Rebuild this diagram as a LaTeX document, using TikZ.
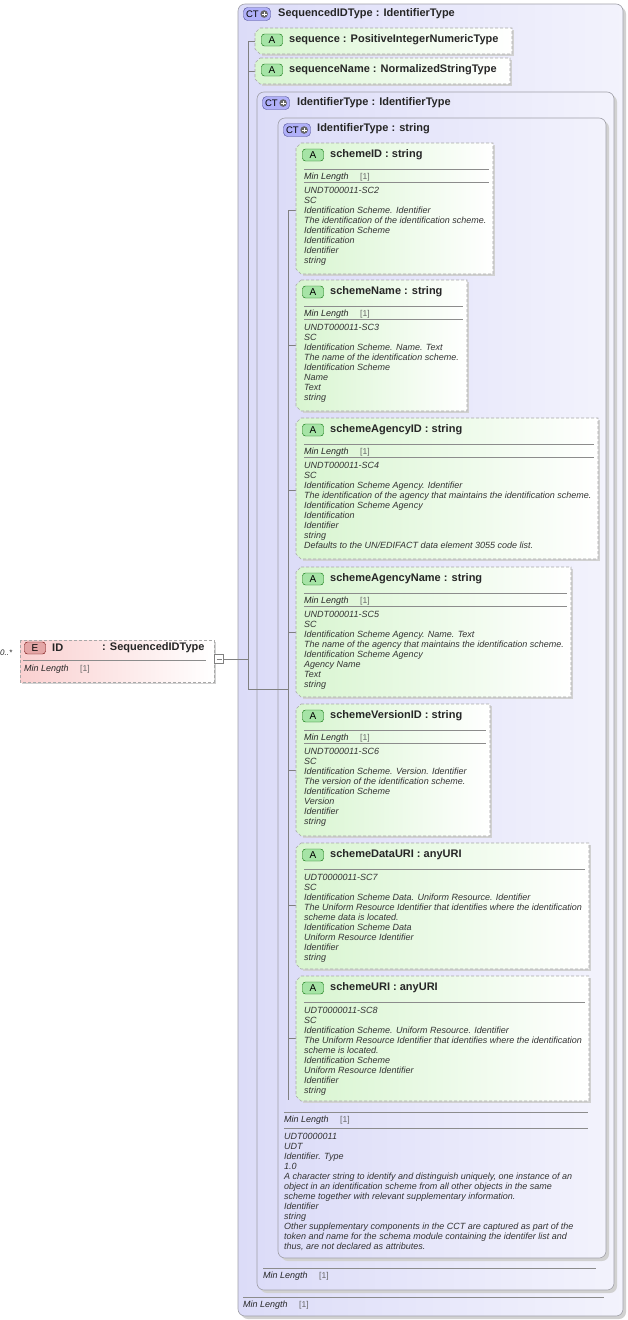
\documentclass[tikz,border=0pt]{standalone}
\usepackage{fontspec}
\setmainfont{Liberation Sans}
\usetikzlibrary{calc}
\definecolor{ctfill}{HTML}{DCDCF8}
\definecolor{ctedge}{HTML}{A0A0A8}
\definecolor{agreen}{HTML}{D8F5D0}
\definecolor{aedge}{HTML}{A8A8A8}
\definecolor{efill}{HTML}{FAD0D0}
\tikzset{
 x=1pt,y=-1pt,
 ctbox/.style={draw=ctedge,rounded corners=7pt,left color=ctfill,right color=ctfill!35!white,line width=0.6pt},
 abox/.style={draw=aedge,dashed,dash pattern=on 3pt off 2pt,left color=agreen,right color=white,line width=0.6pt},
 ebox/.style={draw=aedge,dashed,dash pattern=on 3pt off 2pt,left color=efill,right color=white,line width=0.6pt},
 shad/.style={fill=black!18},
 hdr/.style={font=\bfseries\fontsize{11}{12}\selectfont,anchor=west,inner sep=0pt,text=black!85},
 badge/.style={draw=#1!60!black,fill=#1!35!white,rounded corners=3pt,minimum width=21pt,minimum height=12pt,inner sep=0pt,font=\fontsize{10}{10}\selectfont},
 ctbadge/.style={draw=blue!40!black!70,fill=ctfill!80!blue,rounded corners=4pt,minimum width=27pt,minimum height=13pt,inner sep=0pt,font=\fontsize{9.5}{10}\selectfont},
 body/.style={font=\itshape\fontsize{9}{10}\selectfont,anchor=north west,inner sep=0pt,align=left,text=black!80},
 ml/.style={font=\itshape\fontsize{9}{10}\selectfont,anchor=west,inner sep=0pt,text=black!85},
 one/.style={font=\fontsize{8.5}{10}\selectfont,anchor=west,inner sep=0pt,text=black!60},
 sep/.style={draw=black!45,line width=0.5pt},
 conn/.style={draw=black!50,line width=0.6pt},
}
\newcommand\ctbadgeat[2]{\node[ctbadge] (#1) at #2 {CT\,\tikz[baseline=-3pt]{\fill[black!60](0,0)circle(3.8pt);\draw[white,line width=1pt](-2.4pt,0)--(2.4pt,0)(0,-2.4pt)--(0,2.4pt);}};}
% name x1 y1 x2 y2 title
\newcommand\attrbox[6]{%
 \fill[shad] ({#2+7},{#3+2})--({#4+2},{#3+2})--({#4+2},{#5+2})--({#2+7},{#5+2})--cycle;
 \path[abox] ({#2+5},#3)--(#4,#3)--(#4,#5)--({#2+5},#5)--(#2,{#5-5})--(#2,{#3+5})--cycle;
 \node[badge=green!70!black] (#1b) at ({#2+17},{#3+12}) {A};
 \node[hdr] (#1) at ({#2+34},{#3+12}) {#6};
}
\newcommand\minlen[3]{% x1 x2 ysep
 \draw[sep] (#1,#3)--(#2,#3);
 \node[ml] at (#1,{#3+8}) {Min Length};
 \node[one] at ({#1+56},{#3+8}) {[1]};
}
\begin{document}
\begin{tikzpicture}
\useasboundingbox (0,0) rectangle (628,1320);
% outer CT
\fill[shad,rounded corners=7pt] (241,7) rectangle (626,1319);
\path[ctbox] (238,4) rectangle (623,1316);
\ctbadgeat{ct1}{(257,14)}
\node[hdr] (t1) at (278,14) {SequencedIDType : IdentifierType};
% IdentifierType box
\fill[shad,rounded corners=7pt] (260,95) rectangle (617,1293);
\path[ctbox] (257,92) rectangle (614,1290);
\ctbadgeat{ct2}{(276,103)}
\node[hdr] (t2) at (297,103) {IdentifierType : IdentifierType};
% inner
\fill[shad,rounded corners=7pt] (281,121) rectangle (609,1261);
\path[ctbox] (278,118) rectangle (606,1258);
\ctbadgeat{ct3}{(297,130)}
\node[hdr] (t3) at (317,129) {IdentifierType : string};
% connectors
\coordinate (j0) at (224,659);
\coordinate (j1) at (248,659);
\coordinate (j2) at (248,689);
\coordinate (j3) at (288,689);
\coordinate (a1) at (248,41);
\coordinate (a2) at (248,71);
\coordinate (s1) at (288,210);
\coordinate (s2) at (288,1100);
\draw[conn] (j0)--(j1)--(a1)--(255,41);
\draw[conn] (a2)--(255,71);
\draw[conn] (j1)--(j2)--(j3);
\draw[conn] (s1)--(s2);
\foreach \y in {210,345,490,632,770,905,1038}{\draw[conn] (288,\y)--(296,\y);}
% sequence attributes
\attrbox{seq}{255}{28}{512}{54}{sequence : PositiveIntegerNumericType}
\attrbox{seqn}{255}{58}{510}{84}{sequenceName : NormalizedStringType}
% scheme attrs
\attrbox{sid}{296}{143}{493}{274}{schemeID : string}
\minlen{304}{489}{169}\draw[sep](304,182)--(489,182);
\node[body] at (304,187) {UNDT000011-SC2\\SC\\Identification Scheme. Identifier\\The identification of the identification scheme.\\Identification Scheme\\Identification\\Identifier\\string};
\attrbox{sname}{296}{280}{467}{411}{schemeName : string}
\minlen{304}{463}{306}\draw[sep](304,319)--(463,319);
\node[body] at (304,324) {UNDT000011-SC3\\SC\\Identification Scheme. Name. Text\\The name of the identification scheme.\\Identification Scheme\\Name\\Text\\string};
\attrbox{sag}{296}{418}{598}{559}{schemeAgencyID : string}
\minlen{304}{594}{444}\draw[sep](304,457)--(594,457);
\node[body] at (304,462) {UNDT000011-SC4\\SC\\Identification Scheme Agency. Identifier\\The identification of the agency that maintains the identification scheme.\\Identification Scheme Agency\\Identification\\Identifier\\string\\Defaults to the UN/EDIFACT data element 3055 code list.};
\attrbox{sagn}{296}{567}{571}{697}{schemeAgencyName : string}
\minlen{304}{567}{593}\draw[sep](304,606)--(567,606);
\node[body] at (304,611) {UNDT000011-SC5\\SC\\Identification Scheme Agency. Name. Text\\The name of the agency that maintains the identification scheme.\\Identification Scheme Agency\\Agency Name\\Text\\string};
\attrbox{sver}{296}{704}{490}{836}{schemeVersionID : string}
\minlen{304}{486}{730}\draw[sep](304,743)--(486,743);
\node[body] at (304,748) {UNDT000011-SC6\\SC\\Identification Scheme. Version. Identifier\\The version of the identification scheme.\\Identification Scheme\\Version\\Identifier\\string};
\attrbox{sdu}{296}{843}{589}{969}{schemeDataURI : anyURI}
\draw[sep](304,869)--(585,869);
\node[body] at (304,874) {UDT0000011-SC7\\SC\\Identification Scheme Data. Uniform Resource. Identifier\\The Uniform Resource Identifier that identifies where the identification\\scheme data is located.\\Identification Scheme Data\\Uniform Resource Identifier\\Identifier\\string};
\attrbox{suri}{296}{976}{589}{1101}{schemeURI : anyURI}
\draw[sep](304,1002)--(585,1002);
\node[body] at (304,1007) {UDT0000011-SC8\\SC\\Identification Scheme. Uniform Resource. Identifier\\The Uniform Resource Identifier that identifies where the identification\\scheme is located.\\Identification Scheme\\Uniform Resource Identifier\\Identifier\\string};
% inner footer
\minlen{284}{588}{1112}\draw[sep](284,1128)--(588,1128);
\node[body] at (284,1133) {UDT0000011\\UDT\\Identifier. Type\\1.0\\A character string to identify and distinguish uniquely, one instance of an\\object in an identification scheme from all other objects in the same\\scheme together with relevant supplementary information.\\Identifier\\string\\Other supplementary components in the CCT are captured as part of the\\token and name for the schema module containing the identifer list and\\thus, are not declared as attributes.};
\minlen{263}{596}{1268}
\minlen{243}{604}{1297}
% element
\fill[shad] (22,642) rectangle (216,684);
\path[ebox] (20,640) rectangle (214,682);
\node[badge=red!70!black] (eb) at (35,648) {E};
\node[hdr] (eid) at (52,648) {ID};
\node[hdr] (etype) at (102,648) {: SequencedIDType};
\draw[sep] (23,660)--(206,660);
\node[ml] at (24,669) {Min Length};
\node[one] at (80,669) {[1]};
\node[ml,font=\itshape\fontsize{8}{8}\selectfont] at (0,653) {0..*};
\node[draw=black!50,fill=white,minimum size=9pt,inner sep=0pt] (mb) at (219,659) {};
\draw[black!50] (216.5,659)--(221.5,659);
\end{tikzpicture}
\end{document}
